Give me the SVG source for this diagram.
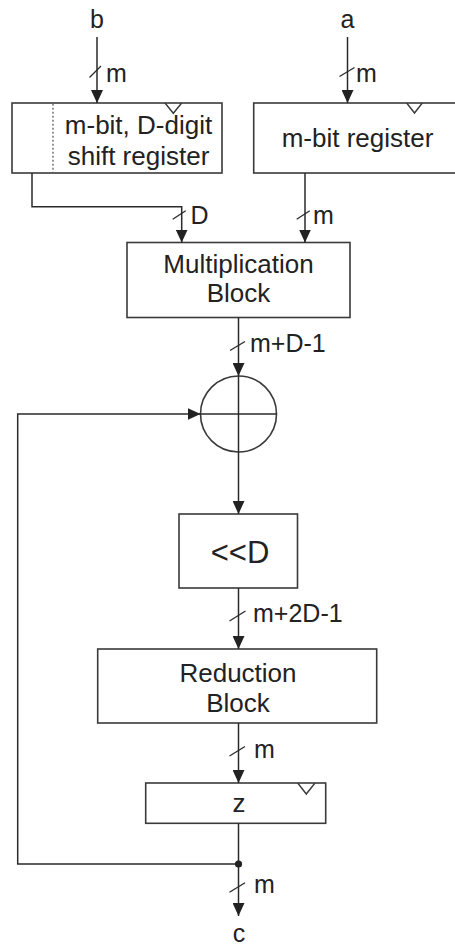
<svg xmlns="http://www.w3.org/2000/svg" width="455" height="946" viewBox="0 0 455 946">
  <style>
    .box { fill: #fff; stroke: #3a3a3a; stroke-width: 1.6; }
    .wire { fill: none; stroke: #2a2a2a; stroke-width: 1.5; }
    .tick { fill: none; stroke: #2a2a2a; stroke-width: 1.3; }
    .clk { fill: none; stroke: #3a3a3a; stroke-width: 1.4; }
    .lbl { font-family: "Liberation Sans", Arial, sans-serif; font-size: 25px; fill: #222; }
    .txt { font-family: "Liberation Sans", Arial, sans-serif; font-size: 26px; fill: #222; text-anchor: middle; }
  </style>
  <defs>
    <marker id="arrow" viewBox="0 0 13 12" refX="13" refY="6" markerWidth="13" markerHeight="12" markerUnits="userSpaceOnUse" orient="auto">
      <path d="M0,0 L13,6 L0,12 z" fill="#222"/>
    </marker>
  </defs>

  <rect width="455" height="946" fill="#fff"/>

  <!-- shift register holding b -->
  <g id="shift-register">
    <rect class="box" x="12" y="103" width="210" height="70"/>
    <line x1="53" y1="103.8" x2="53" y2="172.2" stroke="#555" stroke-width="1.2" stroke-dasharray="2,2"/>
    <polyline class="clk" points="165,103 173.3,113.3 181.7,103"/>
    <text class="txt" x="138.5" y="134">m-bit, D-digit</text>
    <text class="txt" x="138.5" y="164.5">shift register</text>
  </g>

  <!-- register holding a -->
  <g id="a-register">
    <rect class="box" x="253.7" y="103" width="204" height="70"/>
    <polyline class="clk" points="406.7,103 414.5,113 422.3,103"/>
    <text class="txt" x="357.5" y="147">m-bit register</text>
  </g>

  <g id="multiplication-block">
    <rect class="box" x="127" y="242.5" width="223" height="75"/>
    <text class="txt" x="238.5" y="273">Multiplication</text>
    <text class="txt" x="238.5" y="302">Block</text>
  </g>

  <!-- XOR accumulator -->
  <g id="adder">
    <circle class="box" cx="238.5" cy="414" r="38"/>
    <line class="wire" x1="238.5" y1="376" x2="238.5" y2="452"/>
    <line class="wire" x1="200.5" y1="414" x2="276.5" y2="414"/>
  </g>

  <g id="shift-left">
    <rect class="box" x="179" y="514" width="118.5" height="74"/>
    <text class="txt" x="240" y="563" style="font-size:31px">&lt;&lt;D</text>
  </g>

  <g id="reduction-block">
    <rect class="box" x="97.7" y="649" width="279" height="74"/>
    <text class="txt" x="238" y="681.7">Reduction</text>
    <text class="txt" x="238" y="711.7">Block</text>
  </g>

  <g id="z-register">
    <rect class="box" x="145.7" y="783" width="180" height="40.3"/>
    <polyline class="clk" points="297.7,783 306.3,794 315,783"/>
    <text class="txt" x="239" y="811.7">z</text>
  </g>

  <g id="connectors">
    <!-- inputs -->
    <text class="lbl" x="97" y="27.5" text-anchor="middle">b</text>
    <line class="wire" x1="97" y1="37" x2="97" y2="103" marker-end="url(#arrow)"/>
    <line class="tick" x1="89.5" y1="77.5" x2="101" y2="66"/>
    <text class="lbl" x="106" y="82">m</text>

    <text class="lbl" x="347.5" y="28" text-anchor="middle">a</text>
    <line class="wire" x1="347.5" y1="37" x2="347.5" y2="103" marker-end="url(#arrow)"/>
    <line class="tick" x1="339.5" y1="76.5" x2="354.5" y2="67.5"/>
    <text class="lbl" x="356" y="82">m</text>

    <!-- registers to multiplier -->
    <polyline class="wire" points="32,173 32,206.7 181.7,206.7 181.7,242.5" marker-end="url(#arrow)"/>
    <line class="tick" x1="172.7" y1="219.3" x2="185.7" y2="210.7"/>
    <text class="lbl" x="190.5" y="224">D</text>

    <line class="wire" x1="305" y1="173" x2="305" y2="242.5" marker-end="url(#arrow)"/>
    <line class="tick" x1="296.7" y1="219.3" x2="309.7" y2="210.7"/>
    <text class="lbl" x="313" y="224">m</text>

    <!-- multiplier to adder -->
    <line class="wire" x1="238.5" y1="317.5" x2="238.5" y2="376" marker-end="url(#arrow)"/>
    <line class="tick" x1="230" y1="350.5" x2="245" y2="341.5"/>
    <text class="lbl" x="250" y="352">m+D-1</text>

    <!-- adder to shifter -->
    <line class="wire" x1="238.5" y1="452" x2="238.5" y2="514" marker-end="url(#arrow)"/>

    <!-- shifter to reduction -->
    <line class="wire" x1="238.5" y1="588" x2="238.5" y2="649" marker-end="url(#arrow)"/>
    <line class="tick" x1="229.5" y1="621" x2="245.5" y2="611"/>
    <text class="lbl" x="253" y="622">m+2D-1</text>

    <!-- reduction to z -->
    <line class="wire" x1="238.5" y1="723" x2="238.5" y2="783" marker-end="url(#arrow)"/>
    <line class="tick" x1="229.5" y1="756" x2="245" y2="746.5"/>
    <text class="lbl" x="254" y="758.3">m</text>

    <!-- z to output, with feedback branch -->
    <line class="wire" x1="238.5" y1="823.3" x2="238.5" y2="916" marker-end="url(#arrow)"/>
    <polyline class="wire" points="238.5,864 17.7,864 17.7,414 200.5,414" marker-end="url(#arrow)"/>
    <circle cx="238.5" cy="864" r="3.6" fill="#222"/>
    <line class="tick" x1="229.5" y1="892.3" x2="245" y2="882.7"/>
    <text class="lbl" x="254" y="893">m</text>
    <text class="lbl" x="239" y="942" text-anchor="middle">c</text>
  </g>
</svg>
